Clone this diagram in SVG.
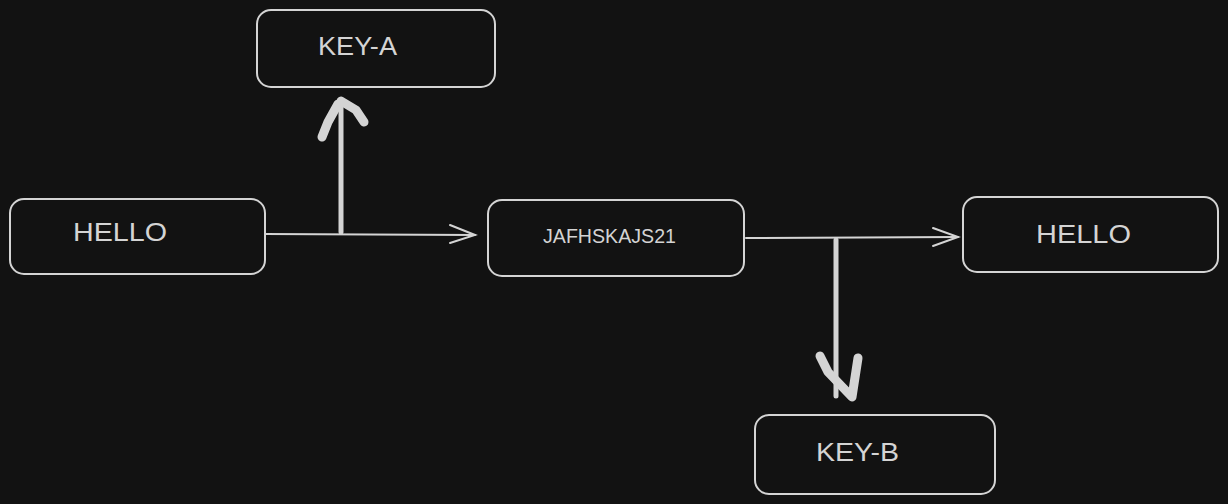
<svg xmlns="http://www.w3.org/2000/svg" width="1228" height="504" viewBox="0 0 1228 504">
<style>
.box{fill:none;stroke:#d4d4d4;stroke-width:2}
.lbl{fill:#d4d4d4;font-family:"Liberation Sans",Arial,sans-serif;font-size:26px}
.thin{fill:none;stroke:#d4d4d4;stroke-width:2;stroke-linecap:round}
.thick{fill:none;stroke:#d4d4d4;stroke-width:5;stroke-linecap:round}
.head{fill:none;stroke:#d4d4d4;stroke-width:9;stroke-linecap:round;stroke-linejoin:round}
</style>
<rect width="1228" height="504" fill="#121212"/>
<g id="key-a">
<rect class="box" x="257" y="10" width="238" height="77" rx="14"/>
<text class="lbl" x="318" y="55" textLength="79" lengthAdjust="spacingAndGlyphs">KEY-A</text>
</g>
<g id="hello-left">
<rect class="box" x="10" y="199" width="255" height="75" rx="14"/>
<text class="lbl" x="73" y="241" textLength="94" lengthAdjust="spacingAndGlyphs">HELLO</text>
</g>
<g id="jafh">
<rect class="box" x="488" y="200" width="256" height="76" rx="14"/>
<text class="lbl" x="543" y="243" style="font-size:20px" textLength="133" lengthAdjust="spacingAndGlyphs">JAFHSKAJS21</text>
</g>
<g id="hello-right">
<rect class="box" x="963" y="197" width="255" height="75" rx="14"/>
<text class="lbl" x="1036" y="243" textLength="95" lengthAdjust="spacingAndGlyphs">HELLO</text>
</g>
<g id="key-b">
<rect class="box" x="755" y="415" width="240" height="79" rx="14"/>
<text class="lbl" x="816" y="461" textLength="83" lengthAdjust="spacingAndGlyphs">KEY-B</text>
</g>
<g id="connectors">
<path class="thin" d="M265 234 L475 235"/>
<path class="thin" d="M450 225 L475 235 L450 243"/>
<path class="thick" d="M341 232 L341 102"/>
<path class="head" d="M322 137 L328 122 L338 104 M341 101 L356 110 L364 122"/>
<path class="thin" d="M746 238 L958 237"/>
<path class="thin" d="M933 228 L958 237 L933 246"/>
<path class="thick" d="M836 240 L836 396"/>
<path class="head" d="M820 356 L828 372 L852 397 L858 358"/>
</g>
</svg>
